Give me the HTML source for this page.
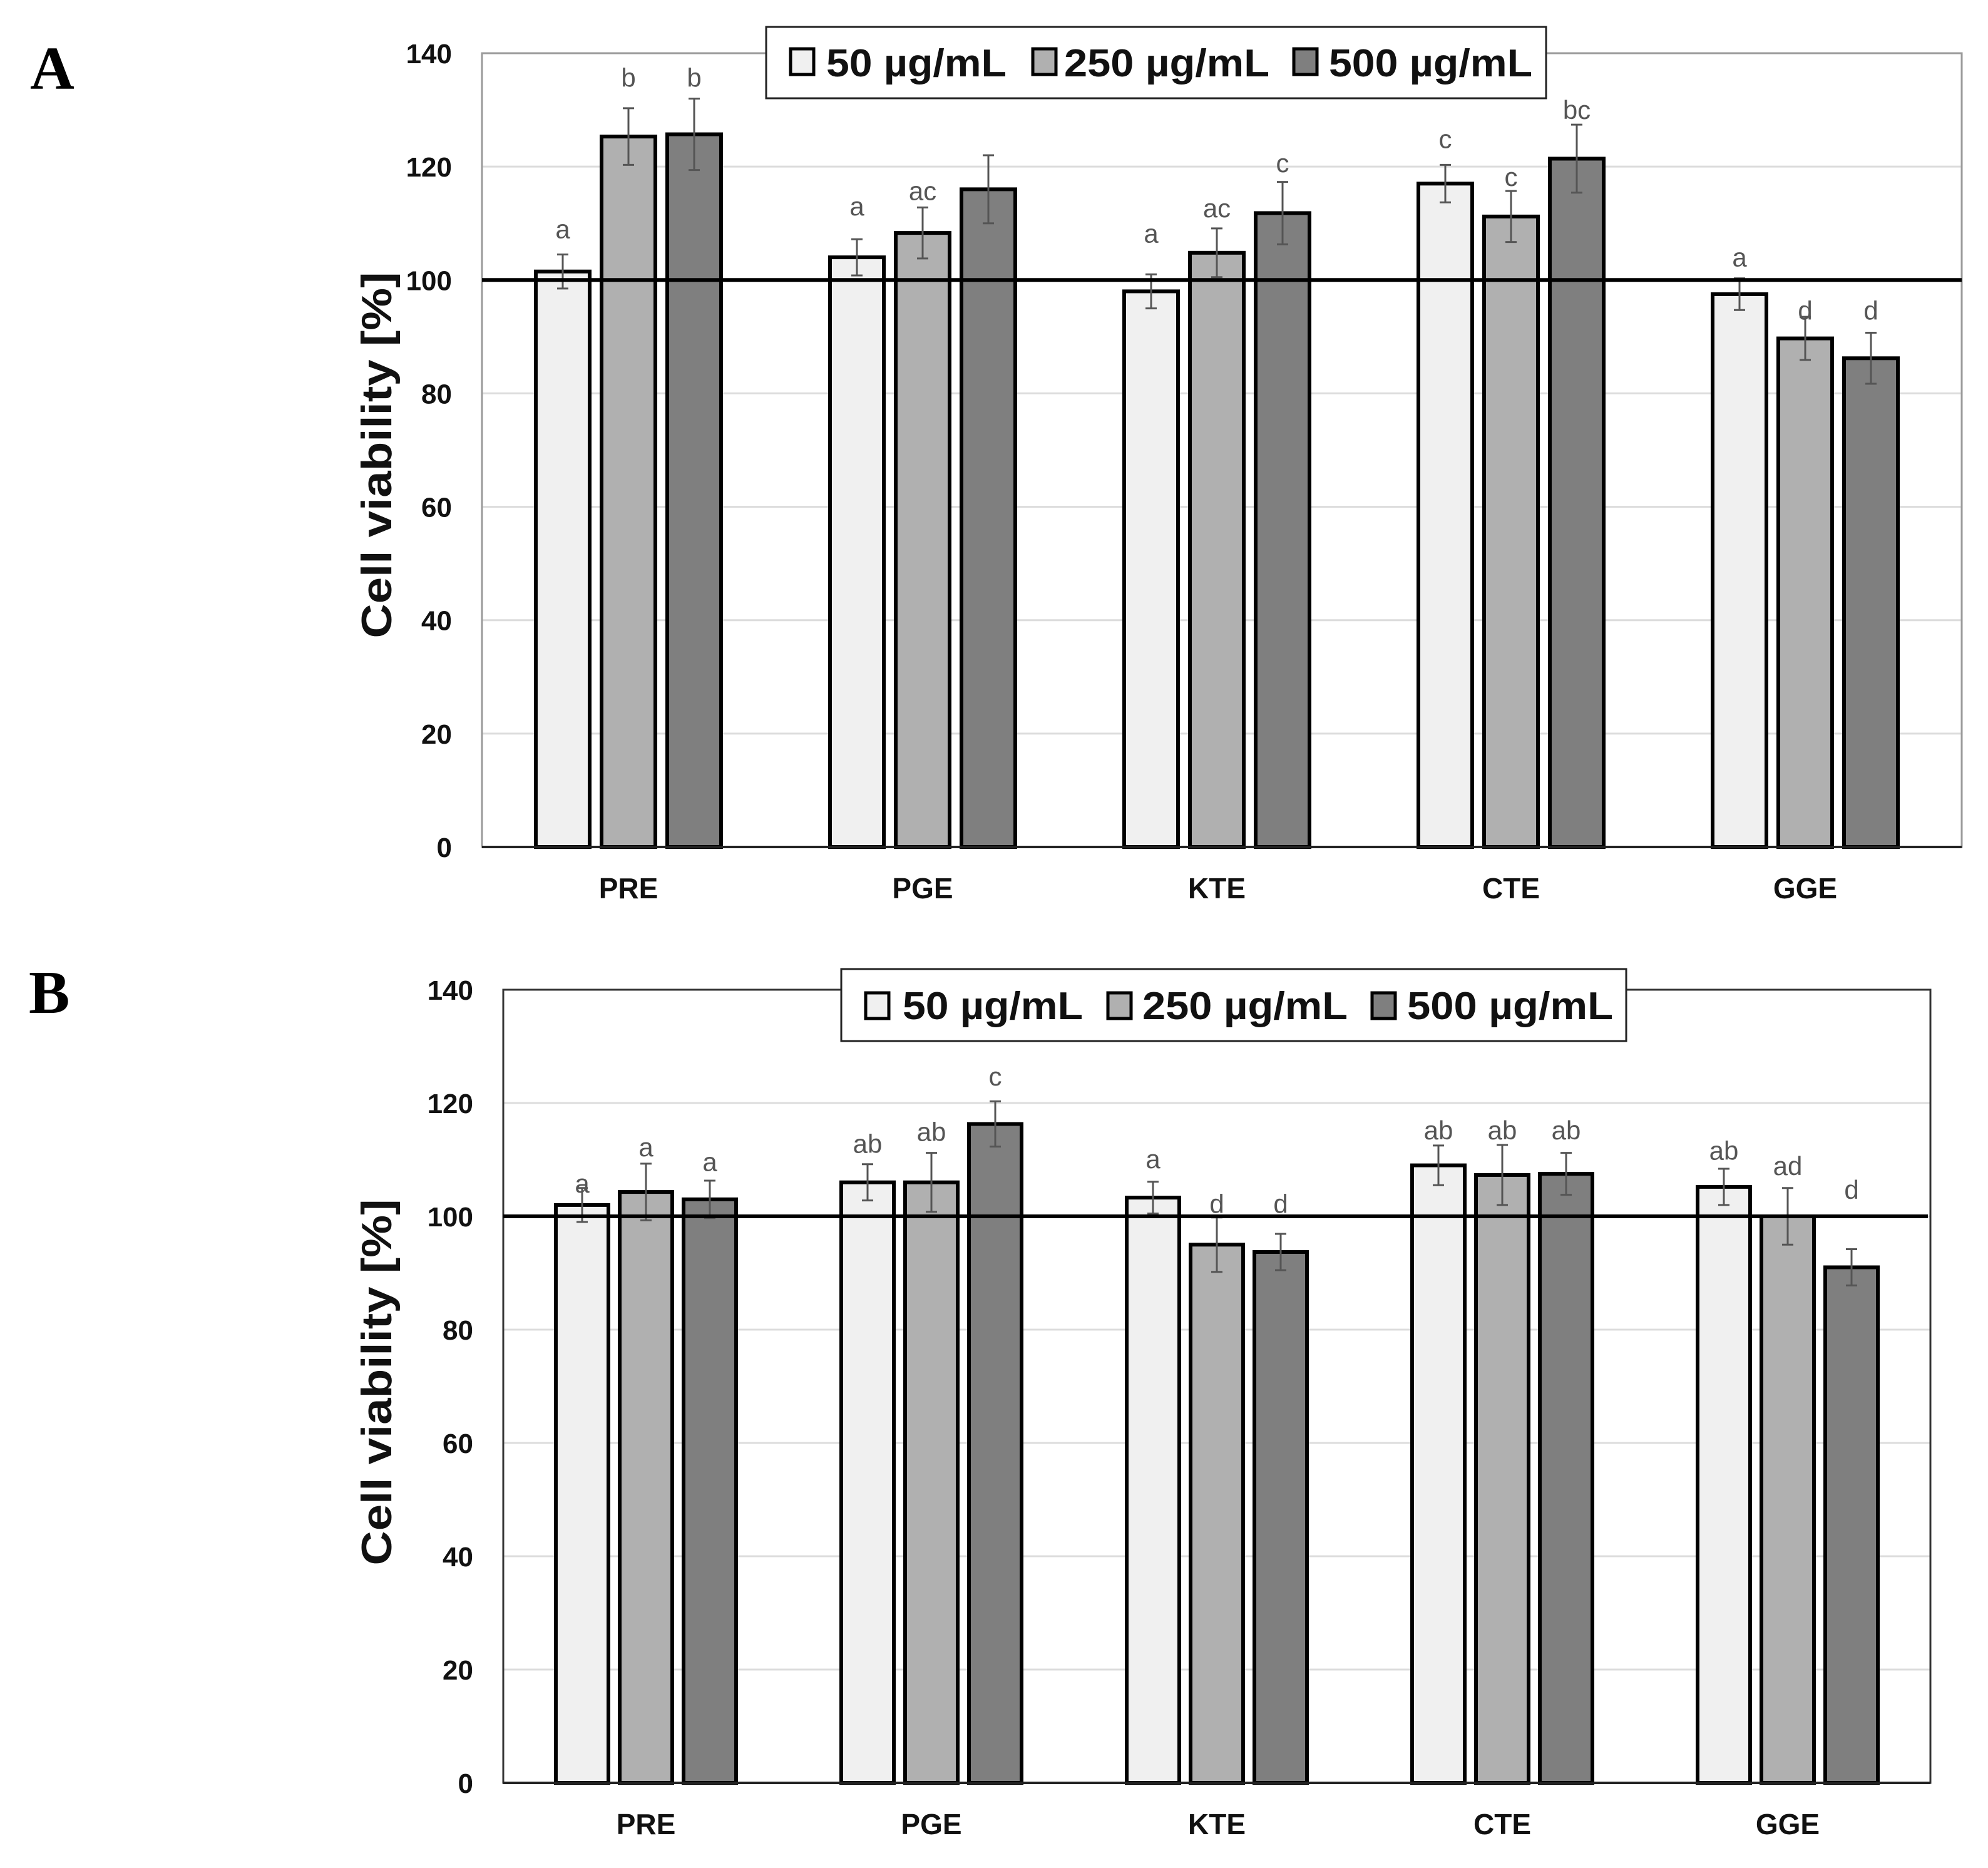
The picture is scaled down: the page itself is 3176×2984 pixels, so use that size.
<!DOCTYPE html>
<html><head><meta charset="utf-8"><style>
html,body{margin:0;padding:0;background:#fff;}
svg{display:block;}
</style></head><body>
<svg id="fig" width="3176" height="2984" viewBox="0 0 3176 2984" xmlns="http://www.w3.org/2000/svg" font-family="Liberation Sans, sans-serif">
<rect width="3176" height="2984" fill="#fff"/>
<text x="48" y="142" font-family="Liberation Serif, serif" font-weight="bold" font-size="98">A</text>
<text x="46" y="1618" font-family="Liberation Serif, serif" font-weight="bold" font-size="98">B</text>
</svg>
<script>
const categories = ["PRE","PGE","KTE","CTE","GGE"];
const seriesNames = ["50 µg/mL","250 µg/mL","500 µg/mL"];
const yTicks = [0,20,40,60,80,100,120,140];
const aVal50 = [101.5,104,98,117,97.5];
const aVal250 = [125.3,108.3,104.8,111.2,89.7];
const aVal500 = [125.7,116,111.8,121.4,86.2];
const aErr50 = [3,3.2,3,3.3,2.8];
const aErr250 = [5,4.5,4.3,4.5,3.8];
const aErr500 = [6.3,6,5.5,6,4.5];
const aLet50 = ["a","a","a","c","a"];
const aLet250 = ["b","ac","ac","c","d"];
const aLet500 = ["b","","c","bc","d"];
const aLetY50 = [107.4,111.4,106.6,123.3,102.4];
const aLetY250 = [134.1,114.1,111.1,116.6,93];
const aLetY500 = [134.1,0,119,128.4,93];
const bVal50 = [102,106,103.3,109,105.2];
const bVal250 = [104.3,106,95,107.3,100];
const bVal500 = [103,116.3,93.7,107.5,91];
const bErr50 = [3,3.2,2.8,3.5,3.2];
const bErr250 = [5,5.2,4.8,5.3,5];
const bErr500 = [3.3,4,3.2,3.7,3.2];
const bLet50 = ["a","ab","a","ab","ab"];
const bLet250 = ["a","ab","d","ab","ad"];
const bLet500 = ["a","c","d","ab","d"];
const bLetY50 = [104.2,111.2,108.5,113.6,110];
const bLetY250 = [110.6,113.3,100.6,113.6,107.3];
const bLetY500 = [108,123.1,100.6,113.6,103.1];

const NS="http://www.w3.org/2000/svg";
const svg=document.getElementById('fig');
function mk(tag,attrs,parent){const e=document.createElementNS(NS,tag);for(const k in attrs)e.setAttribute(k,attrs[k]);(parent||svg).appendChild(e);return e;}
const fills=["#f0f0f0","#b0b0b0","#7f7f7f"];

function panel(cfg){
  const g=mk('g',{});
  
  
  const y=v=>cfg.y0-(v/140)*(cfg.y0-cfg.y140);
  const xc=i=>cfg.c0+cfg.gp*i;
  yTicks.forEach(t=>{
    if(t>0&&t<140){const l=mk('line',{x1:cfg.x0,x2:cfg.x1,y1:y(t),y2:y(t),stroke:'#dcdcdc','stroke-width':3},g);
    
    }
    const tx=mk('text',{x:cfg.tickX,y:y(t)+16,'text-anchor':'end','font-weight':'bold','font-size':44,fill:'#111'},g);
    
    
    tx.textContent=t;
  });
  const fr=mk('rect',{x:cfg.x0,y:y(140),width:cfg.x1-cfg.x0,height:y(0)-y(140),fill:'none',stroke:cfg.frame,'stroke-width':3},g);
  
  
  const vals=[cfg.v50,cfg.v250,cfg.v500],errs=[cfg.e50,cfg.e250,cfg.e500],lets=[cfg.l50,cfg.l250,cfg.l500],ly=[cfg.ly50,cfg.ly250,cfg.ly500];
  categories.forEach((c,i)=>{
    const cx=xc(i);
    for(let s=0;s<3;s++){
      const bx=cx+(s-1)*cfg.pitch-cfg.bw/2;
      const r=mk('rect',{x:bx,y:y(vals[s][i]),width:cfg.bw,height:y(0)-y(vals[s][i]),fill:fills[s],stroke:'#000','stroke-width':6},g);
      
      
      const bc=bx+cfg.bw/2,t=y(vals[s][i]+errs[s][i]),b=y(vals[s][i]-errs[s][i]);
      const eb=mk('path',{d:`M${bc},${t}V${b}M${bc-9},${t}H${bc+9}M${bc-9},${b}H${bc+9}`,stroke:'#555','stroke-width':3,fill:'none'},g);
      
      
      if(lets[s][i]){
        const lt=mk('text',{x:bc,y:y(ly[s][i]),'text-anchor':'middle','font-size':42,fill:'#555'},g);
        
        
        lt.textContent=lets[s][i];
      }
    }
    const cl=mk('text',{x:cx,y:cfg.y0+82,'text-anchor':'middle','font-weight':'bold','font-size':46,fill:'#111'},g);
    
    
    cl.textContent=c;
  });
  const ax=mk('line',{x1:cfg.x0,x2:cfg.x1,y1:y(0),y2:y(0),stroke:'#222','stroke-width':4},g);
  
  
  const ref=mk('line',{x1:cfg.x0,x2:cfg.refX1,y1:y(100),y2:y(100),stroke:'#000','stroke-width':6},g);
  
  
  const yt=mk('text',{x:0,y:0,transform:`translate(${cfg.titleX},${cfg.titleY}) rotate(-90)`,'text-anchor':'middle','font-weight':'bold','font-size':68,fill:'#111',textLength:585,lengthAdjust:'spacingAndGlyphs'},g);
  
  
  yt.textContent='Cell viability [%]';
  const L=cfg.leg;
  const lg=mk('g',{},g);
  
  
  mk('rect',{x:L.x,y:L.y,width:L.w,height:L.h,fill:'#fff',stroke:'#222','stroke-width':3},lg);
  seriesNames.forEach((n,s)=>{
    const sq=mk('rect',{x:L.sq[s],y:L.sqy,width:37,height:41,fill:fills[s],stroke:'#000','stroke-width':5},lg);
    
    
    const tx=mk('text',{x:L.tx[s],y:L.base,'font-weight':'bold','font-size':62,fill:'#111',textLength:L.tw[s],lengthAdjust:'spacingAndGlyphs'},lg);
    
    
    tx.textContent=n;
  });
}
panel({name:'chart-a',x0:770,x1:3134,y0:1353,y140:85,bw:86,pitch:105,c0:1004,gp:470,tickX:722,frame:'#9a9a9a',refX1:3134,
  titleX:625,titleY:727,
  v50:aVal50,v250:aVal250,v500:aVal500,e50:aErr50,e250:aErr250,e500:aErr500,l50:aLet50,l250:aLet250,l500:aLet500,ly50:aLetY50,ly250:aLetY250,ly500:aLetY500,
  leg:{x:1224,y:43,w:1246,h:114,sq:[1263,1650,2067],sqy:78,tx:[1320,1700,2123],tw:[288,328,325],base:122}});
panel({name:'chart-b',x0:804,x1:3084,y0:2848,y140:1581,bw:84,pitch:102,c0:1032,gp:456,tickX:756,frame:'#333',refX1:3080,
  titleX:625,titleY:2208,
  v50:bVal50,v250:bVal250,v500:bVal500,e50:bErr50,e250:bErr250,e500:bErr500,l50:bLet50,l250:bLet250,l500:bLet500,ly50:bLetY50,ly250:bLetY250,ly500:bLetY500,
  leg:{x:1344,y:1548,w:1254,h:115,sq:[1383,1770,2192],sqy:1586,tx:[1442,1825,2248],tw:[288,328,329],base:1628}});
</script>
</body></html>
